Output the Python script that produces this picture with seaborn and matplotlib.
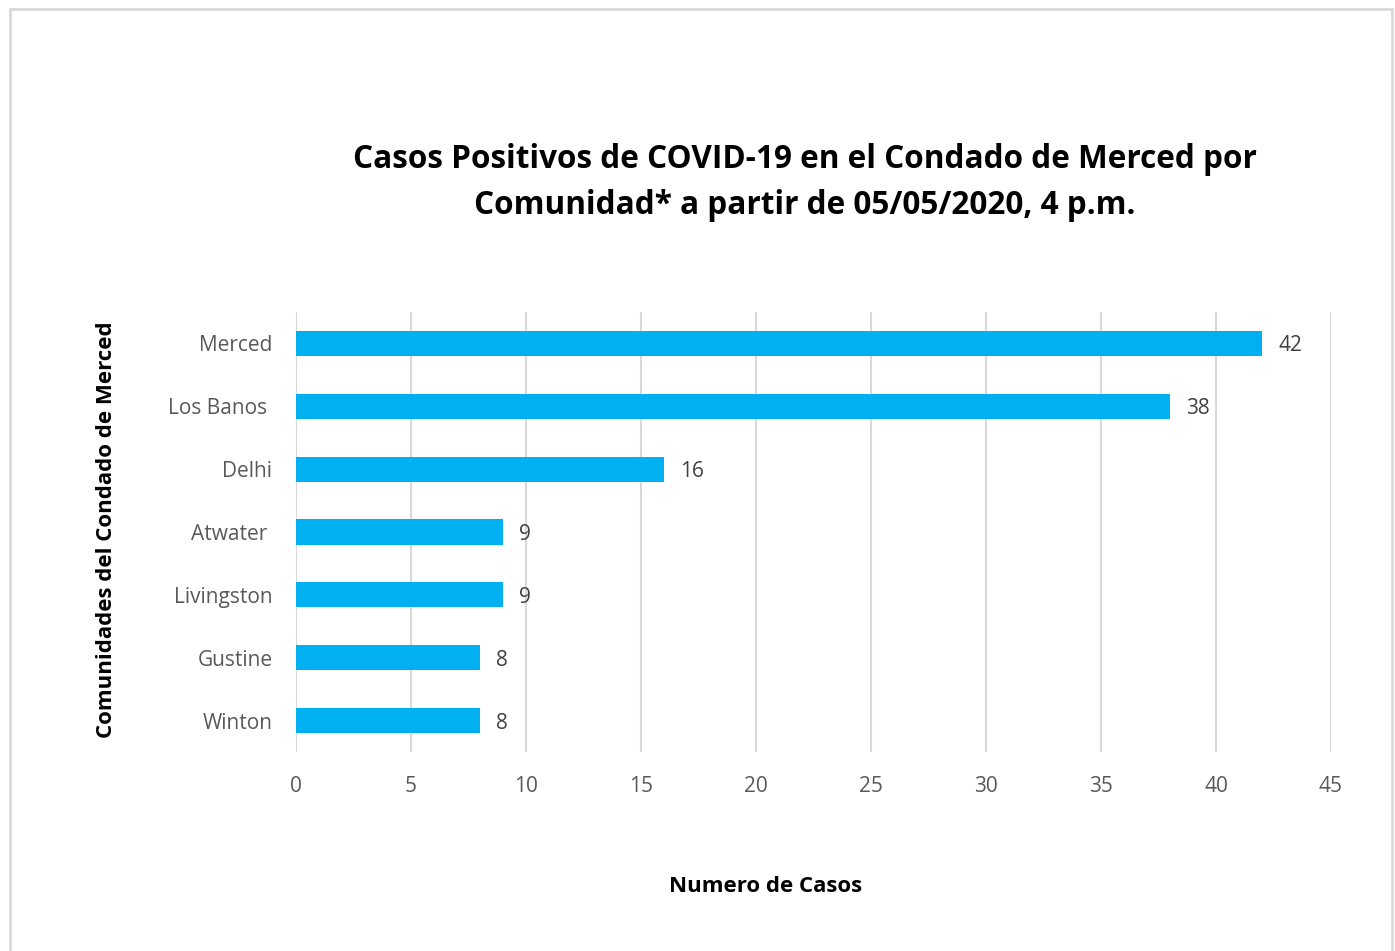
import matplotlib.pyplot as plt
import seaborn as sns
import pandas as pd
from matplotlib.patches import Rectangle

# Data
communities = ['Merced', 'Los Banos ', 'Delhi', 'Atwater ', 'Livingston', 'Gustine', 'Winton']
cases = [42, 38, 16, 9, 9, 8, 8]
x_ticks = [0, 5, 10, 15, 20, 25, 30, 35, 40, 45]

df = pd.DataFrame({'comunidad': communities, 'casos': cases})

sns.set_theme(style='white')
plt.rcParams['font.family'] = ['Open Sans', 'DejaVu Sans']

fig = plt.figure(figsize=(13.95, 9.51), dpi=100)
ax = fig.add_axes([0.2122, 0.2093, 0.7419, 0.4627])

sns.barplot(data=df, x='casos', y='comunidad', orient='h', color='#00B0F0',
            width=0.4, saturation=1, edgecolor='none', ax=ax)

for i, v in enumerate(cases):
    ax.text(v + 0.7, i, str(v), va='center_baseline', ha='left', fontsize=15, color='#404040')

ax.set_xlim(0, 45)
ax.set_ylim(len(communities) - 0.5, -0.5)
ax.set_xticks(x_ticks)
ax.set_xticklabels([str(t) for t in x_ticks])
ax.xaxis.grid(True, color='#D9D9D9', linewidth=1.5)
ax.set_axisbelow(True)
for s in ax.spines.values():
    s.set_visible(False)
ax.tick_params(axis='x', length=0, pad=17, labelsize=15, labelcolor='#595959')
ax.tick_params(axis='y', length=0, pad=17, labelsize=15, labelcolor='#595959')

ax.set_xlabel('')
ax.set_ylabel('')
fig.text(0.549, 0.068, 'Numero de Casos', ha='center', va='center',
         fontsize=16, fontweight='bold', color='black')
fig.text(0.076, 0.443, 'Comunidades del Condado de Merced', ha='center', va='center',
         rotation=90, fontsize=16, fontweight='bold', color='black')

fig.text(0.577, 0.808, 'Casos Positivos de COVID-19 en el Condado de Merced por\nComunidad* a partir de 05/05/2020, 4 p.m.',
         ha='center', va='center', fontsize=22.7, fontweight='bold', color='black',
         linespacing=1.5)

# chart border
fig.patches.append(Rectangle((10 / 1395, -0.05), 1382 / 1395, 1.05 - 9 / 951,
                             transform=fig.transFigure, fill=False,
                             edgecolor='#D9D9D9', linewidth=2))

fig.savefig('out.png', dpi=100, facecolor='white')
